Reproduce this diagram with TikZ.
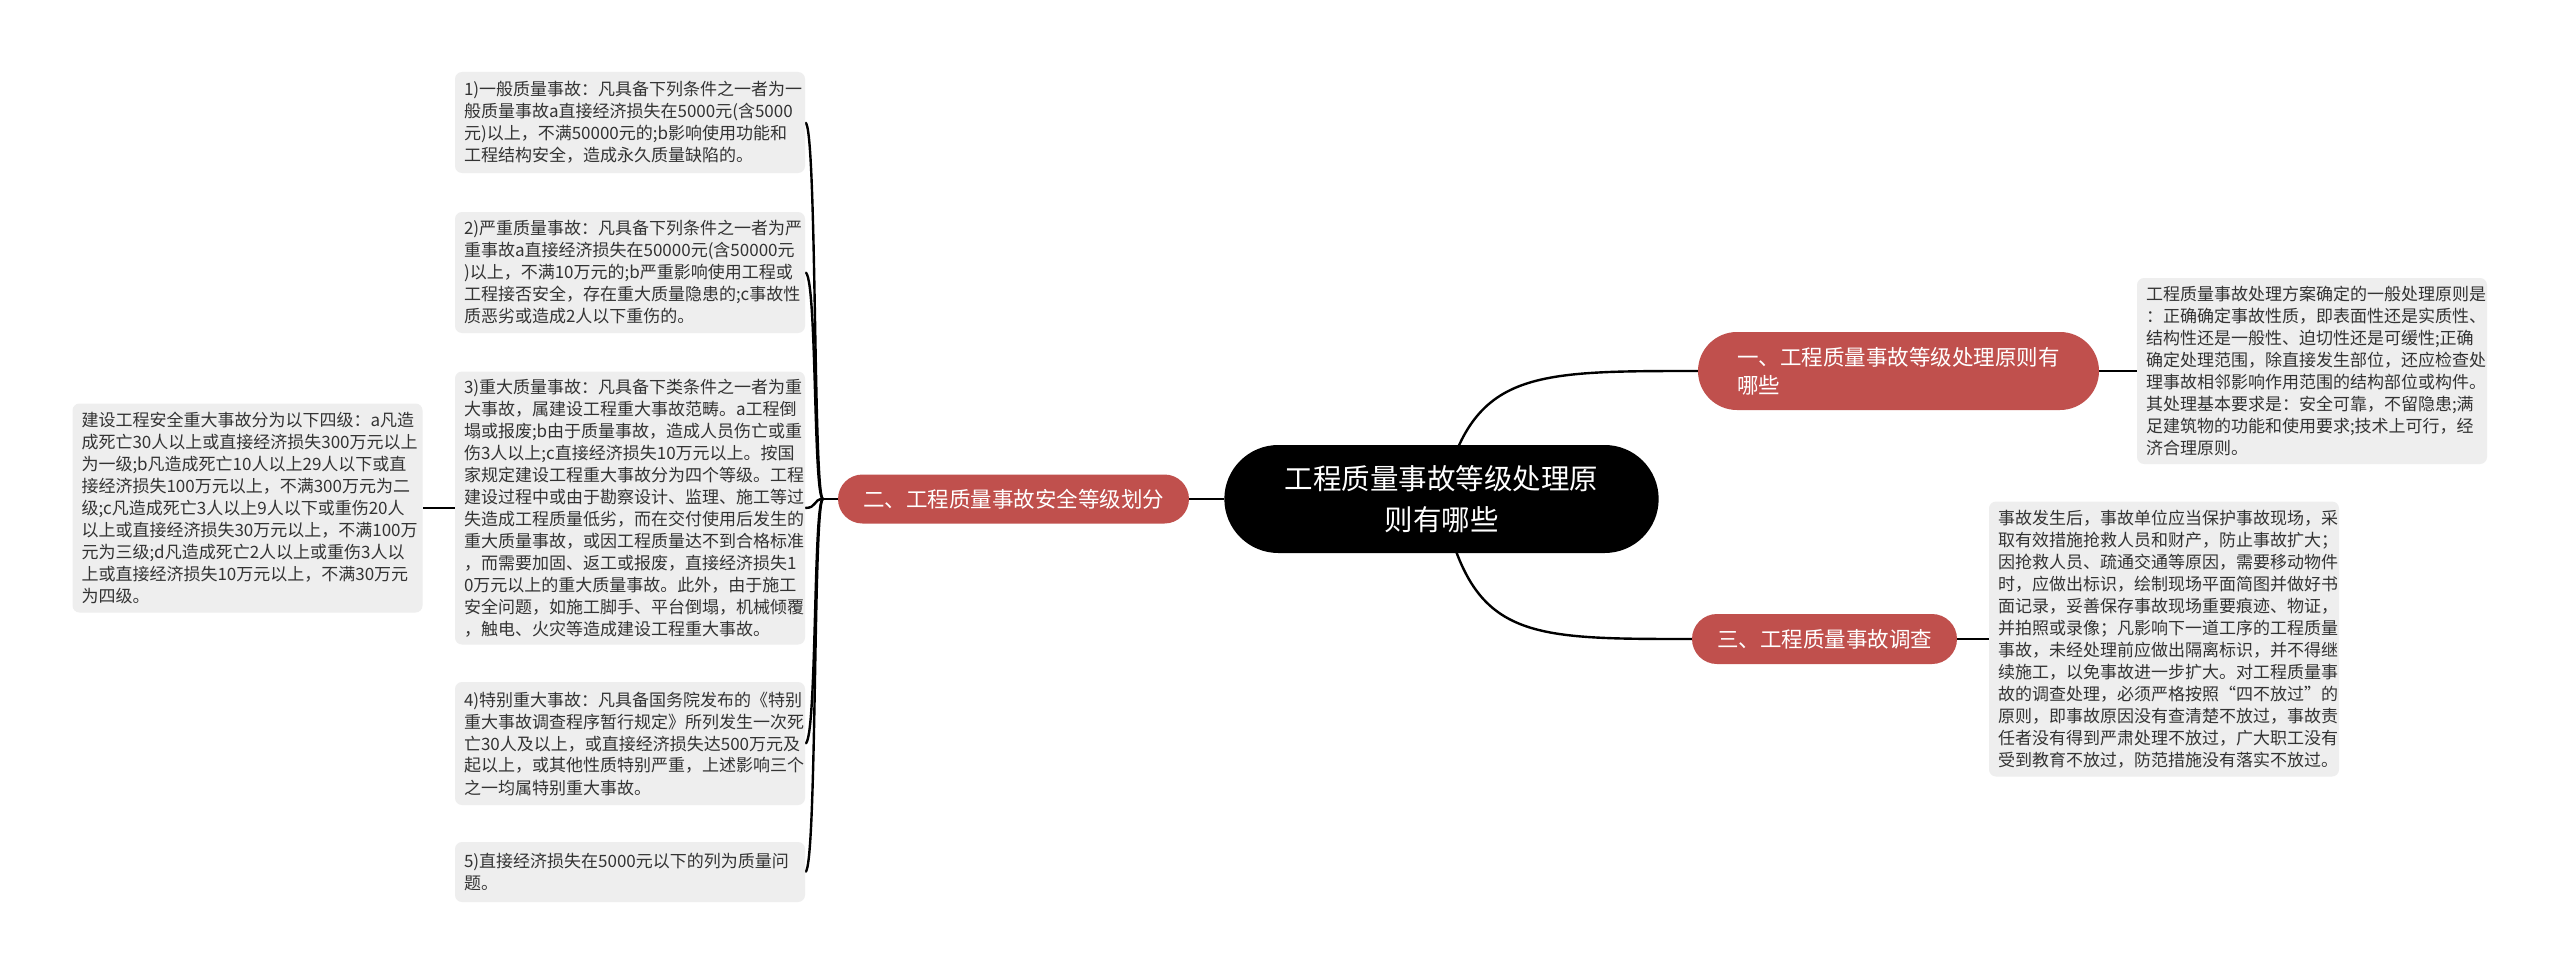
\documentclass[tikz,border=0pt]{standalone}
\usepackage{fontspec}
\newfontfamily\cjk{Noto Sans CJK SC}
\usetikzlibrary{shapes.misc,backgrounds}
\definecolor{brred}{HTML}{C0504D}
\definecolor{leafbg}{HTML}{EEEEEE}
\definecolor{leaftxt}{HTML}{333333}
\begin{document}
\begin{tikzpicture}[x=1pt,y=-1pt,
  leaf/.style={fill=leafbg, rounded corners=7pt, text width=332pt, inner xsep=9pt, inner ysep=6pt, align=left, text=leaftxt, font={\cjk\fontsize{17pt}{22pt}\selectfont}},
  branch/.style={rounded rectangle, fill=brred, text=white, font={\cjk\fontsize{21.5pt}{28pt}\selectfont}, inner xsep=0pt, inner ysep=0pt},
  root/.style={rounded rectangle, fill=black, text=white, align=center, font={\cjk\fontsize{28.5pt}{41pt}\selectfont}, minimum width=441pt, minimum height=108pt},
  conn/.style={draw=black, line width=2.4pt}]
\useasboundingbox (0,0) rectangle (2560,974);

\node[root] (ctr) at (1441.5,499) {工程质量事故等级处理原\\则有哪些};
\node[branch, minimum width=351pt, minimum height=49pt] (br2) at (1013.5,499) {二、工程质量事故安全等级划分};
\node[branch, align=left, inner xsep=6pt, minimum width=413pt, minimum height=78pt] (br1) at (1898.5,371) {一、工程质量事故等级处理原则有\\哪些};
\node[branch, minimum width=265pt, minimum height=50pt] (br3) at (1824.5,639) {三、工程质量事故调查};

\node[leaf, minimum height=186pt] (r1) at (2312,371) {工程质量事故处理方案确定的一般处理原则是\\：正确确定事故性质，即表面性还是实质性、\\结构性还是一般性、迫切性还是可缓性;正确\\确定处理范围，除直接发生部位，还应检查处\\理事故相邻影响作用范围的结构部位或构件。\\其处理基本要求是：安全可靠，不留隐患;满\\足建筑物的功能和使用要求;技术上可行，经\\济合理原则。};
\node[leaf, minimum height=275pt] (r2) at (2164,639) {事故发生后，事故单位应当保护事故现场，采\\取有效措施抢救人员和财产，防止事故扩大；\\因抢救人员、疏通交通等原因，需要移动物件\\时，应做出标识，绘制现场平面简图并做好书\\面记录，妥善保存事故现场重要痕迹、物证，\\并拍照或录像；凡影响下一道工序的工程质量\\事故，未经处理前应做出隔离标识，并不得继\\续施工，以免事故进一步扩大。对工程质量事\\故的调查处理，必须严格按照“四不放过”的\\原则，即事故原因没有查清楚不放过，事故责\\任者没有得到严肃处理不放过，广大职工没有\\受到教育不放过，防范措施没有落实不放过。};

\node[leaf, minimum height=101pt] (b1) at (630,122.5) {1)一般质量事故：凡具备下列条件之一者为一\\般质量事故a直接经济损失在5000元(含5000\\元)以上，不满50000元的;b影响使用功能和\\工程结构安全，造成永久质量缺陷的。};
\node[leaf, minimum height=121pt] (b2) at (630,272.5) {2)严重质量事故：凡具备下列条件之一者为严\\重事故a直接经济损失在50000元(含50000元\\)以上，不满10万元的;b严重影响使用工程或\\工程接否安全，存在重大质量隐患的;c事故性\\质恶劣或造成2人以下重伤的。};
\node[leaf, minimum height=273pt] (b3) at (630,508) {3)重大质量事故：凡具备下类条件之一者为重\\大事故，属建设工程重大事故范畴。a工程倒\\塌或报废;b由于质量事故，造成人员伤亡或重\\伤3人以上;c直接经济损失10万元以上。按国\\家规定建设工程重大事故分为四个等级。工程\\建设过程中或由于勘察设计、监理、施工等过\\失造成工程质量低劣，而在交付使用后发生的\\重大质量事故，或因工程质量达不到合格标准\\，而需要加固、返工或报废，直接经济损失1\\0万元以上的重大质量事故。此外，由于施工\\安全问题，如施工脚手、平台倒塌，机械倾覆\\，触电、火灾等造成建设工程重大事故。};
\node[leaf, minimum height=123pt] (b4) at (630,743.5) {4)特别重大事故：凡具备国务院发布的《特别\\重大事故调查程序暂行规定》所列发生一次死\\亡30人及以上，或直接经济损失达500万元及\\起以上，或其他性质特别严重，上述影响三个\\之一均属特别重大事故。};
\node[leaf, minimum height=60pt] (b5) at (630,872) {5)直接经济损失在5000元以下的列为质量问\\题。};
\node[leaf, minimum height=209pt] (lf) at (247.5,508) {建设工程安全重大事故分为以下四级：a凡造\\成死亡30人以上或直接经济损失300万元以上\\为一级;b凡造成死亡10人以上29人以下或直\\接经济损失100万元以上，不满300万元为二\\级;c凡造成死亡3人以上9人以下或重伤20人\\以上或直接经济损失30万元以上，不满100万\\元为三级;d凡造成死亡2人以上或重伤3人以\\上或直接经济损失10万元以上，不满30万元\\为四级。};

\begin{scope}[on background layer]
\fill[white] (0,0) rectangle (2560,974);
\draw[conn] (br2.east) -- (ctr.west);
\draw[conn] (ctr.center) .. controls +(30,-128) and +(-170,0) .. (br1.west);
\draw[conn] (ctr.center) .. controls +(30,140) and +(-170,0) .. (br3.west);
\draw[conn] (br1.east) -- (r1.west);
\draw[conn] (br3.east) -- (r2.west);
\coordinate (j) at (823,499);
\draw[conn] (br2.west) -- (j);
\foreach \b in {b1,b2,b3,b4,b5} \draw[conn] (j) .. controls +(-10,0) and +(12,0) .. (\b.east);
\draw[conn] (b3.west) -- (lf.east);
\end{scope}
\end{tikzpicture}
\end{document}
